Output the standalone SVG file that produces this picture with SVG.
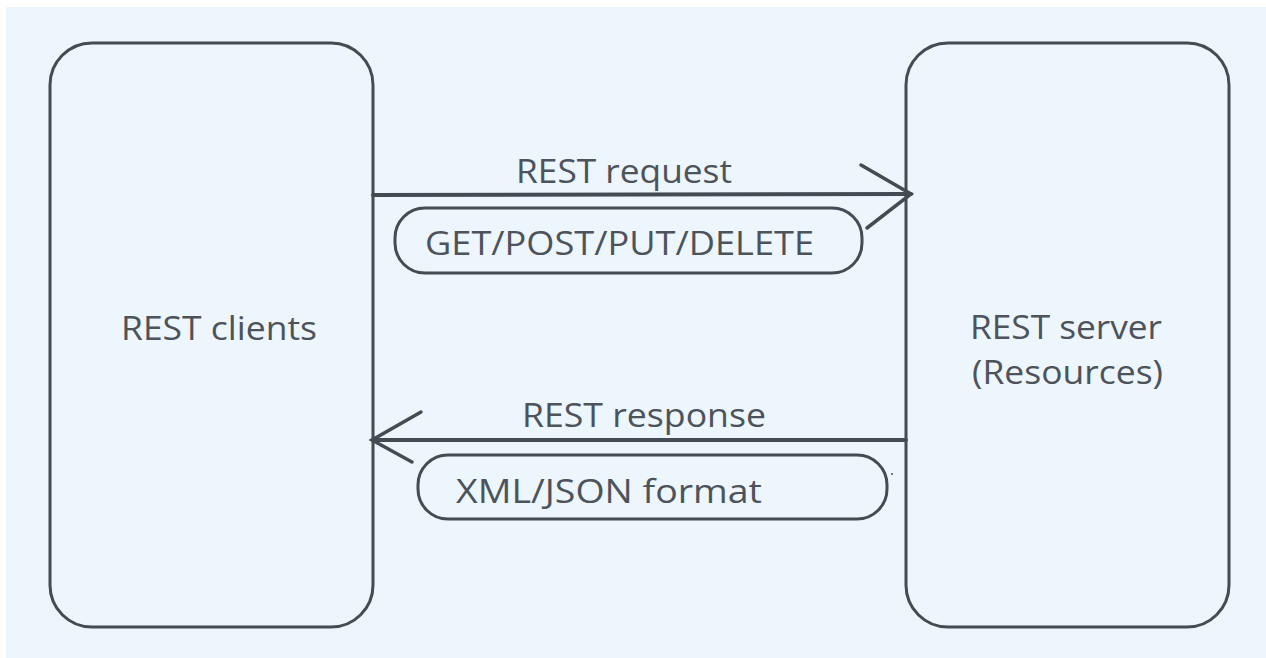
<svg xmlns="http://www.w3.org/2000/svg" width="1266" height="658" viewBox="0 0 1266 658">
<style>
.box{fill:none;stroke:#444b53;stroke-width:3}
.pill{fill:none;stroke:#444b53;stroke-width:3}
.line{fill:none;stroke:#444b53;stroke-width:4;stroke-linecap:round}
.arm{fill:none;stroke:#444b53;stroke-width:3.5;stroke-linecap:round}
.t{font-family:"Open Sans","Noto Sans",sans-serif;font-size:33px;fill:#4d535b}
</style>
<rect x="0" y="0" width="1266" height="658" fill="#ffffff"/>
<rect x="6" y="7" width="1260" height="651" fill="#edf5fd"/>
<g id="clients">
<rect class="box" x="50" y="43" width="323" height="584" rx="42"/>
<text class="t" x="121" y="340" textLength="196" lengthAdjust="spacingAndGlyphs">REST clients</text>
</g>
<g id="server">
<rect class="box" x="906" y="43" width="323" height="584" rx="42"/>
<text class="t" x="970" y="339" textLength="192" lengthAdjust="spacingAndGlyphs">REST server</text>
<text class="t" x="972" y="384" textLength="191" lengthAdjust="spacingAndGlyphs">(Resources)</text>
</g>
<g id="connectors">
<line class="line" x1="373" y1="195" x2="911" y2="194"/>
<polyline class="arm" points="861,165 911,194 867,228"/>
<line class="line" x1="373" y1="440" x2="906" y2="440"/>
<polyline class="arm" points="421,412 372,440 412,462"/>
<text class="t" x="516" y="183" textLength="216" lengthAdjust="spacingAndGlyphs">REST request</text>
<text class="t" x="522" y="427" textLength="244" lengthAdjust="spacingAndGlyphs">REST response</text>
</g>
<g id="methods">
<rect class="pill" x="395" y="208" width="467" height="65" rx="30"/>
<text class="t" x="425" y="255" textLength="389" lengthAdjust="spacingAndGlyphs">GET/POST/PUT/DELETE</text>
</g>
<g id="format">
<rect class="pill" x="418" y="455" width="469" height="64" rx="30"/>
<text class="t" x="456" y="503" textLength="306" lengthAdjust="spacingAndGlyphs">XML/JSON format</text>
<circle cx="892" cy="474" r="1" fill="#444b53"/>
</g>
</svg>
